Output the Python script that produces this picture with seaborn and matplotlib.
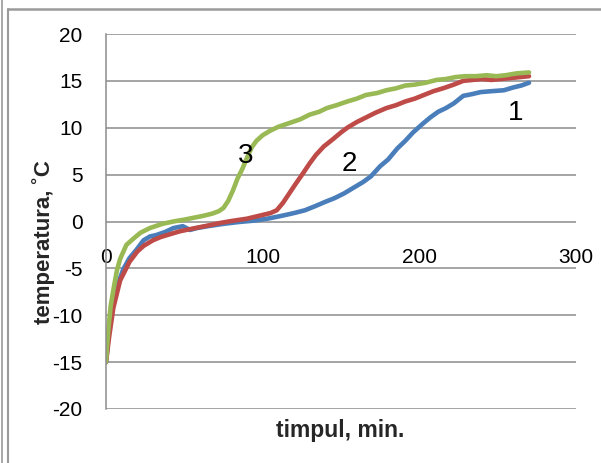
import matplotlib
matplotlib.use("Agg")
import matplotlib.pyplot as plt
from matplotlib.lines import Line2D
import numpy as np
import pandas as pd
import seaborn as sns

# Curve 1 (blue)
t1 = [0, 2, 4.7, 8, 11, 15, 19.5, 24, 28, 32, 38, 43, 49, 53.6, 58, 65, 75, 85, 95,
      103, 112, 120, 127, 133, 140, 146, 152, 158, 164, 169, 175, 180, 186, 191, 196,
      202, 207, 212, 217, 222, 228, 234, 239, 246, 254, 260, 265, 270]
temp1 = [-15, -11.5, -8.7, -6.5, -5.1, -3.9, -3.0, -2.0, -1.6, -1.45, -1.1, -0.7, -0.5,
         -0.9, -0.7, -0.5, -0.25, -0.05, 0.1, 0.3, 0.6, 0.9, 1.2, 1.6, 2.1, 2.5, 3.0,
         3.6, 4.2, 4.8, 5.9, 6.6, 7.8, 8.6, 9.5, 10.4, 11.1, 11.7, 12.1, 12.6, 13.4,
         13.6, 13.8, 13.9, 14.0, 14.3, 14.5, 14.8]

# Curve 2 (red)
t2 = [0, 2, 4.7, 9, 15, 20, 24, 30, 35, 41, 47, 54, 60, 66, 73, 80, 90, 100, 105, 109,
      113, 117, 121, 126, 130, 134, 139, 145, 150, 154, 160, 166, 172, 179, 185, 191,
      197, 203, 209, 215, 222, 228, 234, 240, 246, 252, 258, 264, 270]
temp2 = [-15, -12.3, -9.2, -6.3, -4.3, -3.2, -2.6, -2.0, -1.65, -1.35, -1.05, -0.8,
         -0.6, -0.4, -0.15, 0.05, 0.3, 0.7, 0.9, 1.2, 2.0, 3.0, 4.0, 5.2, 6.2, 7.1,
         8.0, 8.8, 9.5, 10.0, 10.6, 11.1, 11.6, 12.1, 12.4, 12.8, 13.1, 13.5, 13.9,
         14.2, 14.6, 15.0, 15.1, 15.2, 15.1, 15.2, 15.3, 15.4, 15.5]

# Curve 3 (green)
t3 = [0, 1.5, 3, 5, 7, 9, 13, 17, 22, 28, 36, 43, 50, 56, 62, 68, 72, 75, 78, 81, 84,
      87, 90, 93, 96, 100, 105, 110, 117, 124, 130, 136, 141, 147, 154, 160, 166, 173,
      179, 185, 191, 197, 204, 211, 217, 223, 229, 236, 243, 249, 255, 262, 270]
temp3 = [-15, -11.5, -9.0, -7.0, -5.2, -4.0, -2.5, -1.9, -1.2, -0.7, -0.25, 0.0, 0.2,
         0.4, 0.6, 0.85, 1.1, 1.45, 2.2, 3.3, 4.6, 5.6, 6.8, 7.9, 8.6, 9.2, 9.7, 10.1,
         10.5, 10.9, 11.4, 11.7, 12.1, 12.4, 12.8, 13.1, 13.5, 13.7, 14.0, 14.2, 14.5,
         14.6, 14.8, 15.1, 15.2, 15.4, 15.5, 15.5, 15.6, 15.5, 15.6, 15.8, 15.9]

series_names = ["1", "2", "3"]
series_colors = ["#4A7EBB", "#BE4B48", "#98B954"]
# curve number labels: (time, temperature)
label_pos = [(261.6, 11.6), (155.4, 6.1), (89.0, 7.0)]

x_ticks = [0, 100, 200, 300]
y_ticks = [-20, -15, -10, -5, 0, 5, 10, 15, 20]
x_label = "timpul, min."
y_label = "temperatura, ˚C"

frames = []
for name, tt, vv in zip(series_names, [t1, t2, t3], [temp1, temp2, temp3]):
    frames.append(pd.DataFrame({"t": tt, "temp": vv, "curve": name}))
df = pd.concat(frames, ignore_index=True)

sns.set_theme(style="white")
plt.rcParams["font.family"] = ["Liberation Sans", "DejaVu Sans"]
plt.rcParams["axes.unicode_minus"] = False

W, H = 601, 463
fig = plt.figure(figsize=(W / 100, H / 100), dpi=100)
fig.patch.set_facecolor("white")
ax = fig.add_axes([106 / W, 1 - 409 / H, 470 / W, 375 / H])

sns.lineplot(data=df, x="t", y="temp", hue="curve", palette=series_colors,
             hue_order=series_names, legend=False, ax=ax, linewidth=3.3,
             solid_capstyle="round", solid_joinstyle="round", sort=False,
             estimator=None)

ax.set_xlim(0, 300)
ax.set_ylim(-20, 20)
ax.set_xticks(x_ticks)
ax.set_yticks(y_ticks)
ax.set_xticklabels([str(v) for v in x_ticks])
ax.set_yticklabels([str(v) for v in y_ticks])

grid_c = "#8c8c8c"
ax.grid(False)
for v in y_ticks:
    ax.axhline(v, color=grid_c, lw=1.1, zorder=0.5)
for s in ["top", "right"]:
    ax.spines[s].set_visible(False)
ax.spines["left"].set_color(grid_c)
ax.spines["left"].set_linewidth(1.1)
ax.spines["bottom"].set_position(("data", 0))
ax.spines["bottom"].set_visible(False)

ax.tick_params(axis="y", length=0, pad=17, labelsize=15, colors="black")
ax.tick_params(axis="x", length=0, pad=19, labelsize=15, colors="black")

ax.set_xlabel(x_label, fontsize=16.5, fontweight="bold", va="center", ha="center")
ax.xaxis.set_label_coords(0.498, (409 - 431) / 375)
ax.set_ylabel(y_label, fontsize=16, fontweight="bold", va="center", ha="center")
ax.yaxis.set_label_coords((44 - 106) / 470, (409 - 242) / 375)

for name, (tx, ty) in zip(series_names, label_pos):
    ax.text(tx, ty, name, fontsize=20, ha="center", va="center", color="black")

# outer frame lines
frame_c = "#9a9a9a"
fig.add_artist(Line2D([1.5 / W, 1.5 / W], [0, 1], color=frame_c, lw=1.2,
                      transform=fig.transFigure))
fig.add_artist(Line2D([7.5 / W, 7.5 / W], [0, 1 - 9 / H], color=frame_c, lw=1.5,
                      transform=fig.transFigure))
fig.add_artist(Line2D([7.5 / W, 1], [1 - 9 / H, 1 - 9 / H], color=frame_c, lw=1.8,
                      transform=fig.transFigure))

fig.savefig("out.png", dpi=100)
